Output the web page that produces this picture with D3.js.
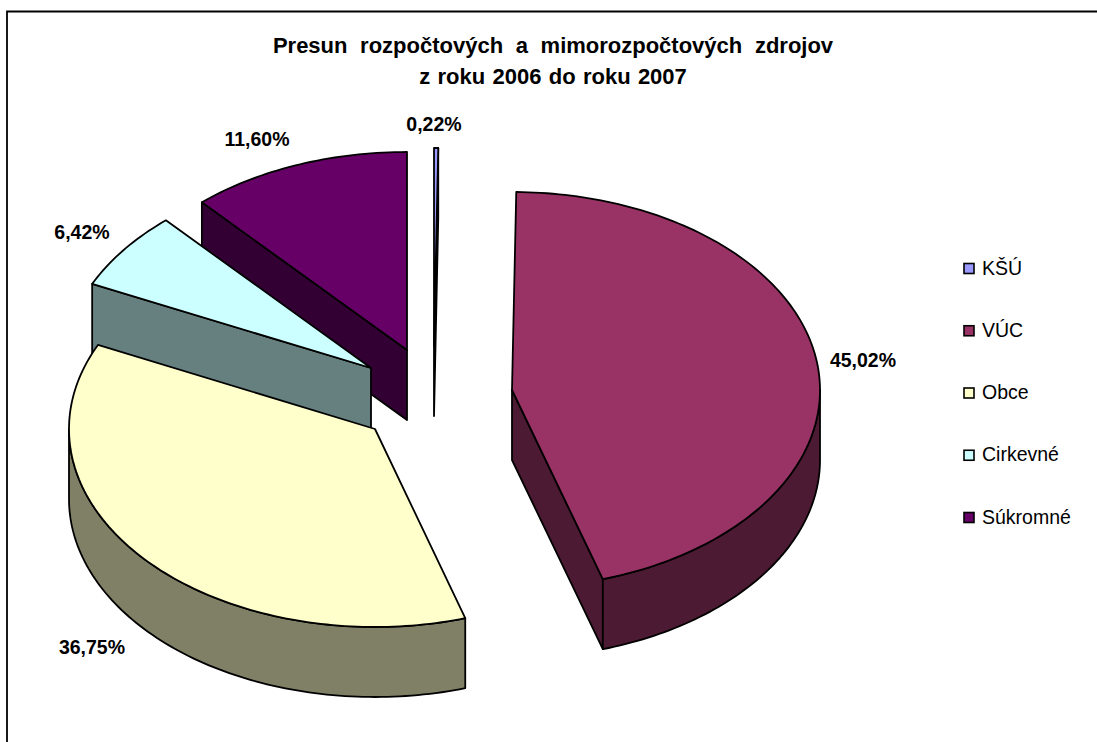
<!DOCTYPE html>
<html><head><meta charset="utf-8">
<script src="https://cdn.jsdelivr.net/npm/d3@7/dist/d3.min.js"></script>
<style>html,body{margin:0;padding:0;background:#fff}svg{display:block}
text{font-family:"Liberation Sans",Arial,sans-serif;fill:#000}</style></head>
<body><svg id="c" width="1097" height="742"></svg>
<script>
const categories=["KŠÚ","VÚC","Obce","Cirkevné","Súkromné"];
const seriesValues=[0.22,45.02,36.75,6.42,11.60];
const valueLabels=["0,22%","45,02%","36,75%","6,42%","11,60%"];
const topColors=["#9999ff","#993366","#ffffcc","#ccffff","#660066"];
const sideColors=["#4d4d80","#4d1a33","#808066","#668080","#330033"];
const titleLines=["Presun rozpočtových a mimorozpočtových zdrojov","z roku 2006 do roku 2007"];
const explodeCentres=[[434,346],[512,390],[375,429],[371,368],[407,350]];
const sliceRx=[308,308,306,308,308];
const labelPositions=[[434,131],[863,367],[92,654],[82,239],[257,146]];
const drawOrder=[4,3,2,0,1];

const svg=d3.select("#c");
svg.append("path").attr("d","M7,742V11.5H1097").attr("fill","none").attr("stroke","#000").attr("stroke-width",1.8);
const ry=198,depth=70;
const pie=d3.pie().sort(null).value(d=>d)(seriesValues);
const line=d3.line().curve(d3.curveLinear);
function pt(c,rx,a,dz=0){return [c[0]+rx*Math.sin(a),c[1]-ry*Math.cos(a)+dz];}
function arcPts(c,rx,a0,a1,dz=0){
  const n=Math.max(2,Math.ceil((a1-a0)/0.02));
  return d3.range(n+1).map(i=>pt(c,rx,a0+(a1-a0)*i/n,dz));
}
function poly(pts,fill){
  svg.append("path").attr("d",line(pts)+"Z").attr("fill",fill)
    .attr("stroke","#000").attr("stroke-width",1.8).attr("stroke-linejoin","round");
}
drawOrder.forEach(i=>{
  const s=pie[i],c=explodeCentres[i],rx=sliceRx[i],a0=s.startAngle,a1=s.endAngle;
  const side=sideColors[i],top=topColors[i];
  const P=[c[0],c[1]],P2=[c[0],c[1]+depth];
  if(i===4||i===3){
    const e=pt(c,rx,a0);poly([e,P,P2,[e[0],e[1]+depth]],side);
  }
  if(i===1||i===0){
    const e=pt(c,rx,a1);poly([P,e,[e[0],e[1]+depth],P2],side);
  }
  const w0=Math.max(a0,Math.PI/2),w1=Math.min(a1,3*Math.PI/2);
  if(w1>w0){
    poly(arcPts(c,rx,w0,w1).concat(arcPts(c,rx,w0,w1,depth).reverse()),side);
  }
  poly([P].concat(arcPts(c,rx,a0,a1)),top);
});
svg.selectAll(".t").data(titleLines).join("text").attr("class","t")
 .attr("x",553).attr("y",(d,i)=>[53,84][i]).attr("text-anchor","middle")
 .attr("font-size",22).attr("font-weight","bold").attr("word-spacing",(d,i)=>[6.5,1.2][i]).text(d=>d);
svg.selectAll(".v").data(valueLabels).join("text").attr("class","v")
 .attr("x",(d,i)=>labelPositions[i][0]).attr("y",(d,i)=>labelPositions[i][1])
 .attr("text-anchor","middle").attr("font-size",19.5).attr("font-weight","bold").text(d=>d);
const ly=d3.scalePoint().domain(categories).range([268.5,517.5]);
const lg=svg.selectAll(".l").data(categories).join("g").attr("class","l")
 .attr("transform",d=>`translate(0,${ly(d)})`);
lg.append("rect").attr("x",964).attr("y",-5).attr("width",10).attr("height",10)
 .attr("fill",(d,i)=>topColors[i]).attr("stroke","#000").attr("stroke-width",1.6);
lg.append("text").attr("x",982).attr("y",6).attr("font-size",19.5).text(d=>d);
</script></body></html>
